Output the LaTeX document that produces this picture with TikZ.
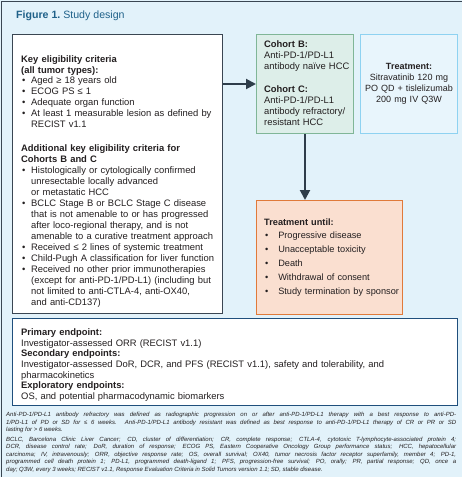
\documentclass[tikz,border=0pt]{standalone}
\usepackage{fontspec}
\setmainfont{Liberation Sans}
\usetikzlibrary{arrows.meta, positioning}
\setlength{\parindent}{0pt}
\definecolor{bgblue}{HTML}{E2F2FA}
\definecolor{frameslate}{HTML}{3A4652}
\definecolor{titleblue}{HTML}{1F6189}
\definecolor{textdark}{HTML}{231F20}
\definecolor{cohortline}{HTML}{80B697}
\definecolor{cohortfill}{HTML}{DDEEE9}
\definecolor{treatline}{HTML}{8ED2F1}
\definecolor{treatfill}{HTML}{E8F5FC}
\definecolor{untilline}{HTML}{E07A3A}
\definecolor{untilfill}{HTML}{FADFD0}
\definecolor{endblue}{HTML}{1F4F7C}
\definecolor{arrowslate}{HTML}{2E3D4A}
% bullet with hanging indent
\newcommand{\bitem}[1][10pt]{\par\hangindent=#1\relax\hangafter=1\relax\noindent\hbox to #1{\hskip1pt\textbullet\hfil}}
\tikzset{
    panel/.style={
        rectangle,
        anchor=north west,
        inner sep=0pt,
        line width=1pt
    },
    critbox/.style={panel, draw=frameslate, fill=white, minimum width=210pt, minimum height=279pt},
    cohortbox/.style={panel, draw=cohortline, fill=cohortfill, minimum width=97pt, minimum height=99pt},
    treatbox/.style={panel, draw=treatline, fill=treatfill, minimum width=97pt, minimum height=99pt,
        text width=96pt, align=center, text=textdark, font=\fontsize{9}{11.1}\selectfont},
    untilbox/.style={panel, draw=untilline, fill=untilfill, minimum width=146pt, minimum height=114pt},
    endbox/.style={panel, draw=endblue, fill=white, minimum width=445pt, minimum height=87pt},
    % text inside the panels
    boxtext/.style={
        anchor=north west,
        inner sep=0pt,
        align=left,
        text=textdark,
        font=\fontsize{9.4}{10.8}\selectfont
    },
    notetext/.style={
        anchor=north west,
        inner sep=0pt,
        text width=450pt,
        align=justify,
        text=textdark,
        font=\fontsize{6}{7.5}\selectfont\itshape
    },
    arrow/.style={
        -{Triangle[length=10pt, width=10pt]},
        line width=2pt,
        color=arrowslate
    },
}

\begin{document}
\begin{tikzpicture}[x=1pt, y=-1pt]
    \useasboundingbox (0,0) rectangle (462,477);
    \fill[bgblue] (0,0) rectangle (462,477);
    \draw[frameslate, line width=1.3pt] (1.2,477) -- (1.2,1.6) -- (462,1.6);

    \node[anchor=base west, inner sep=0pt, text=titleblue, font=\fontsize{10.6}{12}\selectfont] (title) at (16,18)
        {\bfseries Figure 1.\mdseries\ Study design};

    \node[critbox] (criteria) at (12,34) {};
    \node[cohortbox] (cohorts) at (256,34) {};
    \node[treatbox] (treatment) at (360,34)
        {\bfseries Treatment:\\\mdseries Sitravatinib 120 mg\\PO QD + tislelizumab\\200 mg IV Q3W};
    \node[untilbox] (until) at (256,200) {};
    \node[endbox] (endpoints) at (12,318) {};

    \node[boxtext, text width=200pt, below right=21.2pt and 9pt of criteria.north west] (criteria-text) {%
        {\bfseries Key eligibility criteria\\(all tumor types):}
        \bitem Aged ≥ 18 years old
        \bitem ECOG PS ≤ 1
        \bitem Adequate organ function
        \bitem At least 1 measurable lesion as defined by\newline RECIST v1.1
        \par\vspace{13.2pt}\fontsize{9.4}{11}\selectfont
        {\bfseries Additional key eligibility criteria for\\Cohorts B and C}
        \bitem Histologically or cytologically confirmed\newline unresectable locally advanced\newline or metastatic HCC
        \bitem BCLC Stage B or BCLC Stage C disease\newline that is not amenable to or has progressed\newline after loco-regional therapy, and is not\newline amenable to a curative treatment approach
        \bitem Received ≤ 2 lines of systemic treatment
        \bitem Child-Pugh A classification for liver function
        \bitem Received no other prior immunotherapies\newline (except for anti-PD-1/PD-L1) (including but\newline not limited to anti-CTLA-4, anti-OX40,\newline and anti-CD137)\par};

    \node[boxtext, text width=88pt, below right=6.9pt and 8pt of cohorts.north west] (cohorts-text) {%
        {\bfseries Cohort B:}\\Anti-PD-1/PD-L1\\antibody naïve HCC
        \par\vspace{12.3pt}
        {\bfseries Cohort C:}\\Anti-PD-1/PD-L1\\antibody refractory/\\resistant HCC\par};

    \node[boxtext, text width=142pt, font=\fontsize{9.2}{13.8}\selectfont,
        below right=18.2pt and 8pt of until.north west] (until-text) {%
        {\bfseries Treatment until:}
        \bitem[11pt] Progressive disease
        \bitem[11pt] Unacceptable toxicity
        \bitem[11pt] Death
        \bitem[11pt] Withdrawal of consent
        \bitem[11pt] Study termination by sponsor\par};

    \node[boxtext, text width=430pt, font=\fontsize{9.4}{10.7}\selectfont,
        below right=10.4pt and 9pt of endpoints.north west] (endpoints-text) {%
        {\bfseries Primary endpoint:}\\
        Investigator-assessed ORR (RECIST v1.1)\\
        {\bfseries Secondary endpoints:}\\
        Investigator-assessed DoR, DCR, and PFS (RECIST v1.1), safety and tolerability, and\\
        pharmacokinetics\\
        {\bfseries Exploratory endpoints:}\\
        OS, and potential pharmacodynamic biomarkers\par};

    \node[notetext] (note) at (6,412) {%
        Anti-PD-1/PD-L1 antibody refractory was defined as radiographic progression on or after anti-PD-1/PD-L1 therapy with a best response to anti-PD-\linebreak
        1/PD-L1 of PD or SD for ≤ 6 weeks. Anti-PD-1/PD-L1 antibody resistant was defined as best response to anti-PD-1/PD-L1 therapy of CR or PR or SD\linebreak
        lasting for > 6 weeks.\par\vspace{2.4pt}
        BCLC, Barcelona Clinic Liver Cancer; CD, cluster of differentiation; CR, complete response; CTLA-4, cytotoxic T-lymphocyte-associated protein 4;\linebreak
        DCR, disease control rate; DoR, duration of response; ECOG PS, Eastern Cooperative Oncology Group performance status; HCC, hepatocellular\linebreak
        carcinoma; IV, intravenously; ORR, objective response rate; OS, overall survival; OX40, tumor necrosis factor receptor superfamily, member 4; PD-1,\linebreak
        programmed cell death protein 1; PD-L1, programmed death-ligand 1; PFS, progression-free survival; PO, orally; PR, partial response; QD, once a\linebreak
        day; Q3W, every 3 weeks; RECIST v1.1, Response Evaluation Criteria in Solid Tumors version 1.1; SD, stable disease.\par};

    \draw[arrow] (cohorts.west -| criteria.east) -- (cohorts.west);
    \draw[arrow] (cohorts.south) -- (cohorts.south |- until.north);
\end{tikzpicture}
\end{document}
